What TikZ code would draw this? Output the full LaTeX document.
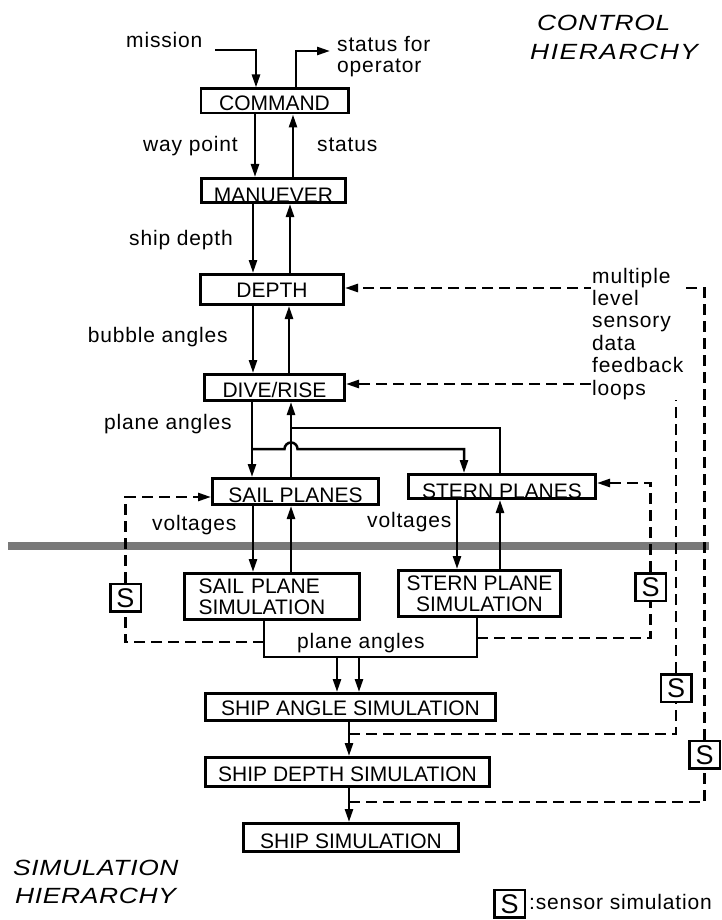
\documentclass[tikz,border=0pt]{standalone}
\usepackage{fontspec}
\setmainfont{Liberation Sans}
\newfontfamily\lblfont{Liberation Sans}[LetterSpace=4]
\newfontfamily\ttlfont{Liberation Sans}[LetterSpace=3,FakeStretch=1.2]
\newfontfamily\ttlwfont{Liberation Sans}[LetterSpace=7,FakeStretch=1.2]
\usetikzlibrary{arrows.meta}
\begin{document}
\begin{tikzpicture}[x=1pt,y=-1pt,
  bx/.style={draw, line width=2.9pt, inner sep=0pt, font=\fontsize{21}{21}\selectfont, text height=#1, text depth=0pt},
  bx/.default=15pt,
  bxm/.style={draw, line width=2.9pt, inner sep=0pt, font=\fontsize{21}{21}\selectfont},
  conn/.style={line width=2.5pt},
  arr/.style={conn, -{Triangle[length=13pt,width=8pt]}},
  dsh/.style={line width=2.5pt, dash pattern=on 11pt off 6pt},
  darr/.style={dsh, -{Triangle[length=13pt,width=8pt]}},
  sbox/.style={draw, line width=2.5pt, inner sep=0pt, minimum width=30.5pt, minimum height=27.5pt, font=\fontsize{27}{27}\selectfont, text height=19.5pt, text depth=0pt},
  lbl/.style={font=\lblfont\fontsize{21}{21}\selectfont, inner sep=0pt},
  ttl/.style={font=\ttlfont\itshape\fontsize{22}{22}\selectfont, inner sep=0pt}
]
\useasboundingbox (0,0) rectangle (722,920);
% separator bar
\fill[gray!95!black] (8,541.5) rectangle (709,549.5);

% boxes
\node[bx=19pt, minimum width=147.1pt, minimum height=24.1pt] (CMD) at (274.5,101) {COMMAND};
\node[bx=24pt, minimum width=144.1pt, minimum height=24.1pt] (MAN) at (273.5,190.5) {MANUEVER};
\node[bx=15pt, minimum width=143.1pt, minimum height=30.1pt] (DEP) at (272,289.5) {DEPTH};
\node[bx=19pt, minimum width=140.1pt, minimum height=26.1pt] (DIVE) at (274.5,387.5) {DIVE/RISE};
\node[bx=21pt, minimum width=166.1pt, minimum height=26.1pt] (SAIL) at (295.5,491.5) {SAIL PLANES};
\node[bx=23pt, minimum width=187.1pt, minimum height=24.1pt] (STERN) at (502,486.5) {STERN PLANES};
\node[bxm, minimum width=175.1pt, minimum height=46.1pt, text width=147pt, inner xsep=14pt, align=left] (SSIM) at (272,596.5) {SAIL PLANE\\SIMULATION};
\node[bxm, minimum width=162.1pt, minimum height=46.1pt, align=center] (TSIM) at (479.5,593.5) {STERN PLANE\\SIMULATION};
\node[bx=16pt, minimum width=290.1pt, minimum height=27.1pt] (SA) at (350.5,707) {SHIP ANGLE SIMULATION};
\node[bx=19pt, minimum width=284.1pt, minimum height=29.1pt] (SD) at (347.5,772) {SHIP DEPTH SIMULATION};
\node[bx=21pt, minimum width=215.1pt, minimum height=28.1pt] (SS) at (351,837.5) {SHIP SIMULATION};

% sensor boxes
\node[sbox] (S1) at (125.5,597.5) {S};
\node[sbox] (S2) at (650.5,587) {S};
\node[sbox] (S3) at (676,688) {S};
\node[sbox] (S4) at (704.5,754.5) {S};
\node[sbox] (SL) at (509.5,903.5) {S};

% coordinates
\coordinate (mis) at (215,50);
\coordinate (sfo) at (330,51);
\coordinate (jd) at (252,449);
\coordinate (ju) at (291,428);
\coordinate (b1) at (337,657);
\coordinate (b2) at (359,657);
\coordinate (lj) at (264,642);
\coordinate (rj) at (477,638);
\coordinate (j1) at (349,734);
\coordinate (j2) at (349,802);

% control connectors
\draw[arr] (mis) -| (CMD.north -| 256,0);
\draw[arr] (CMD.north -| 296,0) |- (sfo);
\draw[arr] (CMD.south -| 255,0) -- (MAN.north -| 255,0);
\draw[arr] (MAN.north -| 293,0) -- (CMD.south -| 293,0);
\draw[arr] (MAN.south -| 253,0) -- (DEP.north -| 253,0);
\draw[arr] (DEP.north -| 290,0) -- (MAN.south -| 290,0);
\draw[arr] (DEP.south -| 253,0) -- (DIVE.north -| 253,0);
\draw[arr] (DIVE.north -| 289,0) -- (DEP.south -| 289,0);
\draw[arr] (DIVE.south -| 252,0) -- (SAIL.north -| 252,0);
\draw[arr] (jd) -- (284.5,449) arc[start angle=180, end angle=0, radius=6.5pt] -- (464,449) -- (STERN.north -| 464,0);
\draw[arr] (SAIL.north -| 291,0) -- (DIVE.south -| 291,0);
\draw[conn] (STERN.north -| 500,0) |- (ju);
\draw[arr] (SAIL.south -| 253,0) -- (SSIM.north -| 253,0);
\draw[arr] (SSIM.north -| 291,0) -- (SAIL.south -| 291,0);
\draw[arr] (STERN.south -| 457,0) -- (TSIM.north -| 457,0);
\draw[arr] (TSIM.north -| 500,0) -- (STERN.south -| 500,0);

% simulation connectors
\draw[conn] (SSIM.south -| 264,0) -- (264,657) -| (TSIM.south -| 477,0);
\draw[arr] (b1) -- (SA.north -| b1);
\draw[arr] (b2) -- (SA.north -| b2);
\draw[arr] (SA.south -| 349,0) -- (SD.north -| 349,0);
\draw[arr] (SD.south -| 349,0) -- (SS.north -| 349,0);

% sensory feedback loops
\draw[darr] (lj) -| (S1.south) (S1.north) |- (SAIL.west |- 0,497);
\draw[darr] (rj) -| (S2.south) (S2.north) |- (STERN.east |- 0,483);
\draw[darr] (j1) -| (S3.south) (S3.north) |- (DIVE.east |- 0,384);
\draw[darr] (j2) -| (S4.south) (S4.north) |- (DEP.east |- 0,288);

% labels
\node[lbl, anchor=base west] (lmis) at (126,48) {mission};
\node[lbl, anchor=base west] (lsfo) at (337,52) {\vtop{\baselineskip=20.5pt\hbox{status for}\hbox{operator}}};
\node[lbl, anchor=base west] (lway) at (143,152) {way point};
\node[lbl, anchor=base west] (lsta) at (317,152) {status};
\node[lbl, anchor=base west] (lshd) at (129,245) {ship depth};
\node[lbl, anchor=base east] (lbub) at (228,342) {bubble angles};
\node[lbl, anchor=base west] (lpa1) at (104,429) {plane angles};
\node[lbl, anchor=base west] (lvo1) at (152,530) {voltages};
\node[lbl, anchor=base west] (lvo2) at (367,527) {voltages};
\node[lbl, anchor=base west] (lpa2) at (297,648) {plane angles};
\node[lbl, anchor=base west, fill=white, inner sep=1pt] (lfb) at (591,283) {\vtop{\baselineskip=22.4pt\hbox{multiple}\hbox{level}\hbox{sensory}\hbox{data}\hbox{feedback}\hbox{loops}}};
\node[lbl, anchor=base west] (lleg) at (529,909) {:sensor simulation};

% titles
\node[ttl, anchor=base west] (tctl) at (537,30.5) {\vtop{\baselineskip=29.5pt\hbox{CONTROL}\hbox{\kern-7pt\ttlwfont\itshape HIERARCHY}}};
\node[ttl, anchor=base west] (tsim) at (13,875) {\vtop{\baselineskip=28.5pt\hbox{SIMULATION}\hbox{\kern2pt HIERARCHY}}};
\end{tikzpicture}
\end{document}
